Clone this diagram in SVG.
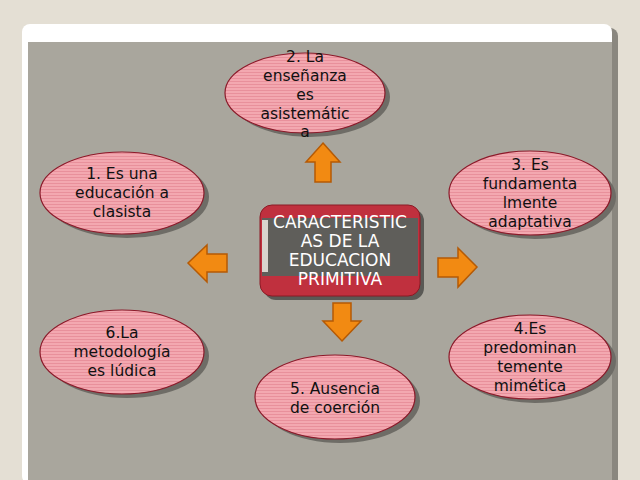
<svg xmlns="http://www.w3.org/2000/svg" width="640" height="480" viewBox="0 0 640 480">
<defs>
<pattern id="st" width="4" height="3" patternUnits="userSpaceOnUse"><rect width="4" height="3" fill="#f3a8b0"/><rect width="4" height="1" fill="#e8909b"/></pattern>
</defs>
<style>
.sh{fill:#6e6c66}
.el{fill:url(#st);stroke:#8c1a2a;stroke-width:1.2}
.t{font-family:"DejaVu Sans",sans-serif;font-size:15.5px;fill:#111;text-anchor:middle}
.ct{font-family:"DejaVu Sans",sans-serif;font-size:17px;fill:#fff;text-anchor:middle}
.ar{fill:#f28a12;stroke:#b55a05;stroke-width:1.5}
</style>
<rect width="640" height="480" fill="#e4dfd4"/>
<rect x="26" y="28" width="592" height="460" rx="8" fill="#8a877f"/>
<rect x="22" y="24" width="590" height="460" rx="8" fill="#ffffff"/>
<rect x="28" y="42" width="584" height="438" fill="#a9a69d"/>
<g id="n2"><ellipse class="sh" cx="310" cy="97" rx="80" ry="40"/><ellipse class="el" cx="305" cy="93" rx="80" ry="40"/>
<text class="t" x="305" y="62">2. La</text><text class="t" x="305" y="81">enseñanza</text><text class="t" x="305" y="100">es</text><text class="t" x="305" y="119">asistemátic</text><text class="t" x="305" y="137">a</text></g>
<g id="n1"><ellipse class="sh" cx="127" cy="197" rx="82" ry="41"/><ellipse class="el" cx="122" cy="193" rx="82" ry="41"/>
<text class="t" x="122" y="179">1. Es una</text><text class="t" x="122" y="198">educación a</text><text class="t" x="122" y="217">clasista</text></g>
<g id="n3"><ellipse class="sh" cx="535" cy="197" rx="81" ry="42"/><ellipse class="el" cx="530" cy="193" rx="81" ry="42"/>
<text class="t" x="530" y="170">3. Es</text><text class="t" x="530" y="189">fundamenta</text><text class="t" x="530" y="208">lmente</text><text class="t" x="530" y="227">adaptativa</text></g>
<g id="n6"><ellipse class="sh" cx="127" cy="356" rx="82" ry="42"/><ellipse class="el" cx="122" cy="352" rx="82" ry="42"/>
<text class="t" x="122" y="338">6.La</text><text class="t" x="122" y="357">metodología</text><text class="t" x="122" y="376">es lúdica</text></g>
<g id="n4"><ellipse class="sh" cx="535" cy="361" rx="81" ry="42"/><ellipse class="el" cx="530" cy="357" rx="81" ry="42"/>
<text class="t" x="530" y="334">4.Es</text><text class="t" x="530" y="353">predominan</text><text class="t" x="530" y="372">temente</text><text class="t" x="530" y="391">mimética</text></g>
<g id="n5"><ellipse class="sh" cx="340" cy="401" rx="80" ry="42"/><ellipse class="el" cx="335" cy="397" rx="80" ry="42"/>
<text class="t" x="335" y="394">5. Ausencia</text><text class="t" x="335" y="413">de coerción</text></g>
<g id="center">
<rect x="264" y="209" width="160" height="91" rx="12" fill="#5a5955"/>
<rect x="260" y="205" width="160" height="91" rx="12" fill="#c0303e" stroke="#8a1a25"/>
<rect x="262" y="218" width="156" height="58" fill="#5f5e5a"/>
<rect x="262" y="220" width="6" height="52" fill="#d8d4ce"/>
<text class="ct" x="340" y="228">CARACTERISTIC</text><text class="ct" x="340" y="247">AS DE LA</text><text class="ct" x="340" y="266">EDUCACION</text><text class="ct" x="340" y="285">PRIMITIVA</text></g>
<g id="connectors">
<polygon class="ar" points="323,143 340,162 331,162 331,182 315,182 315,162 306,162"/>
<polygon class="ar" points="188,263 207,245 207,254 227,254 227,272 207,272 207,282"/>
<polygon class="ar" points="477,267 458,248 458,258 438,258 438,277 458,277 458,287"/>
<polygon class="ar" points="342,341 361,321 351,321 351,303 333,303 333,321 323,321"/>
</g>
</svg>
